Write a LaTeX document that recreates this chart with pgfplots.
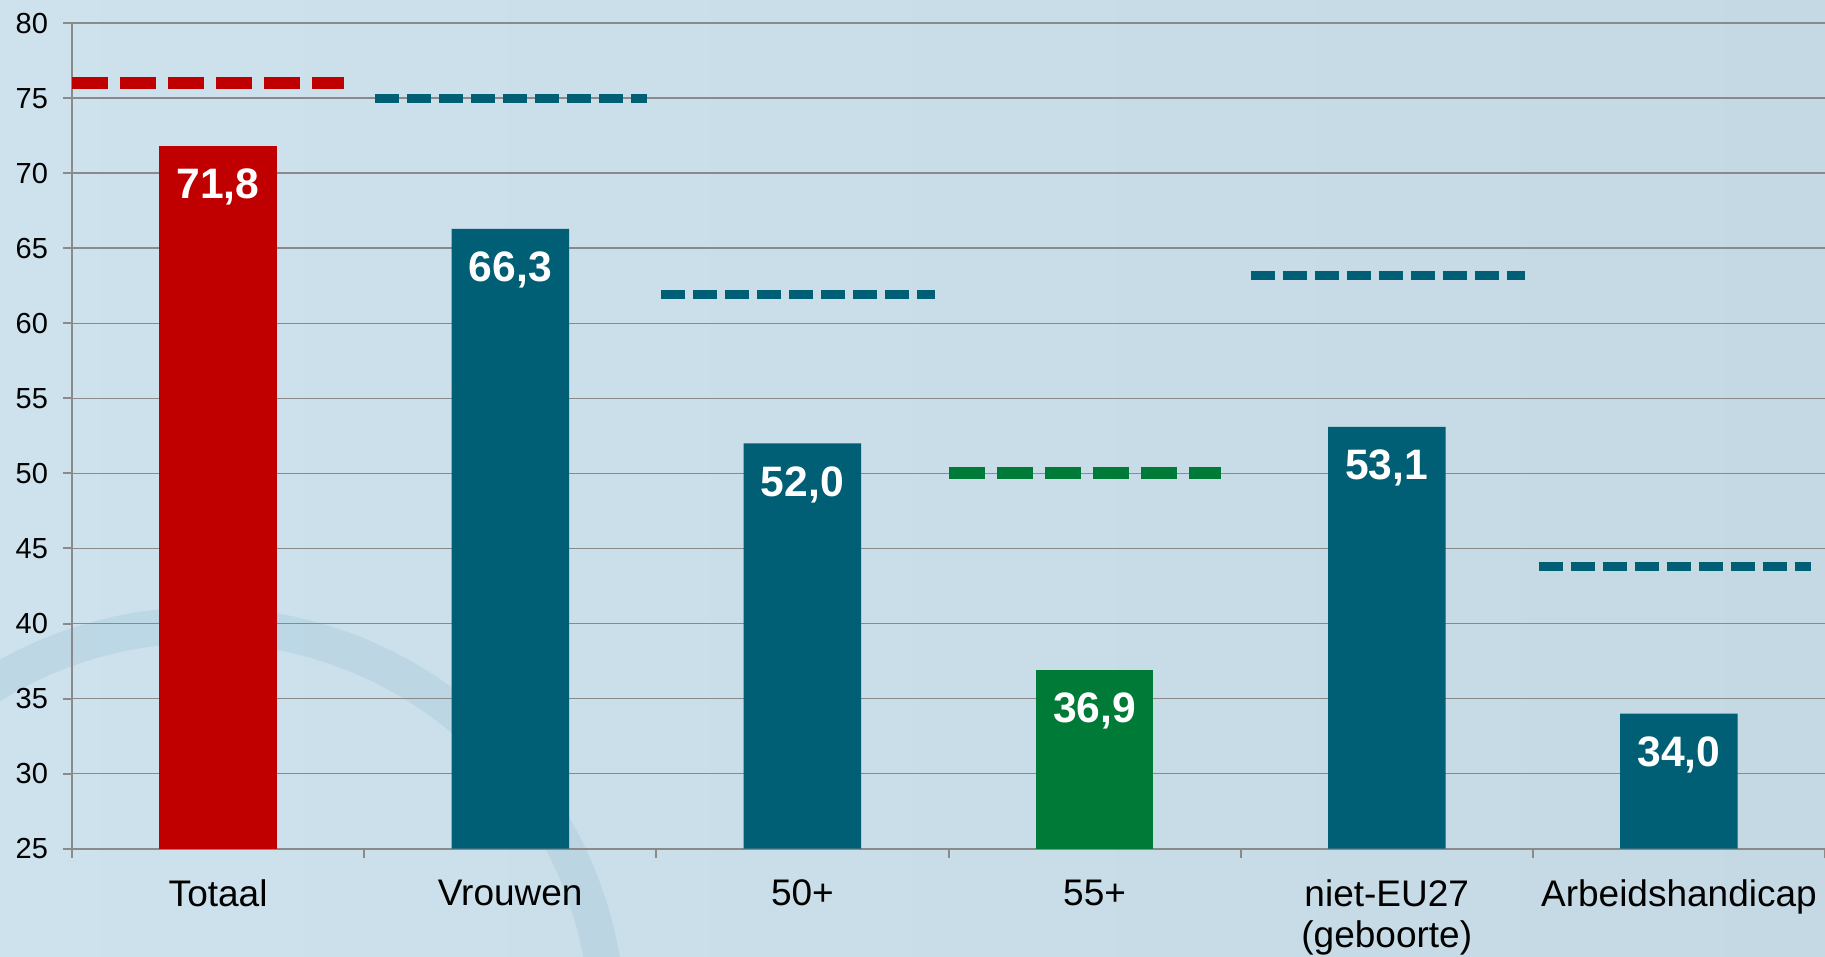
\documentclass[border=0pt]{standalone}
\usepackage{pgfplots}
\pgfplotsset{compat=1.18}
\usepackage{fontspec}
\setmainfont{Liberation Sans}
\definecolor{cred}{HTML}{C00000}
\definecolor{cteal}{HTML}{005E75}
\definecolor{cgreen}{HTML}{007A37}
\definecolor{bgl}{HTML}{CDE2EC}
\definecolor{bgr}{HTML}{C4D9E3}
\definecolor{cgrid}{HTML}{8A8A8A}
\definecolor{cring}{HTML}{A6C8DC}
\pgfplotstableread{
x y lab
0 71.8 71,8
}\redbars
\pgfplotstableread{
x y lab
1 66.3 66,3
2 52.0 52,0
4 53.1 53,1
5 34.0 34,0
}\tealbars
\pgfplotstableread{
x y lab
3 36.9 36,9
}\greenbars
\begin{document}
\begin{tikzpicture}
\fill[left color=bgl, right color=bgr] (0,0) rectangle (912.5pt,478.5pt);
\begin{scope}
\clip (0,0) rectangle (912.5pt,478.5pt);
\draw[cring, opacity=0.4, line width=18pt] (102pt,-36pt) circle (202pt);
\end{scope}
\begin{axis}[
  at={(36pt,54.2pt)}, anchor=south west,
  scale only axis, width=876.5pt, height=412.65pt,
  xmin=-0.5, xmax=5.5, ymin=25, ymax=80,
  axis lines*=left,
  axis line style={cgrid, line width=1pt},
  xtick={-0.5,0.5,1.5,2.5,3.5,4.5,5.5},
  x tick label as interval,
  xticklabels={Totaal,Vrouwen,50+,55+,{niet-EU27\\(geboorte)},Arbeidshandicap},
  xticklabel style={align=center, font=\fontsize{18.5}{20.5}\selectfont, text=black, yshift=-7.5pt},
  ytick={25,30,...,80},
  yticklabel style={font=\fontsize{14.5}{16}\selectfont, text=black, xshift=-4pt},
  tick align=outside,
  major tick length=4.5pt,
  tick style={cgrid, line width=1pt},
  ymajorgrids, grid style={cgrid, line width=0.9pt},
  /pgf/number format/assume math mode=true,
  every node near coord/.append style={anchor=center, yshift=-20.5pt, text=white, font=\bfseries\fontsize{21.3}{24}\selectfont},
]
\addplot[ybar, bar width=58.75pt, bar shift=0pt, fill=cred, draw=none,
  nodes near coords, point meta=explicit symbolic]
  table[x=x, y=y, meta=lab] {\redbars};
\addplot[ybar, bar width=58.75pt, bar shift=0pt, fill=cteal, draw=none,
  nodes near coords, point meta=explicit symbolic]
  table[x=x, y=y, meta=lab] {\tealbars};
\addplot[ybar, bar width=58.75pt, bar shift=0pt, fill=cgreen, draw=none,
  nodes near coords, point meta=explicit symbolic]
  table[x=x, y=y, meta=lab] {\greenbars};
% target lines
\addplot[cred, line width=6pt, dash pattern=on 18pt off 6pt, no markers] coordinates {(-0.5,76.0) (0.431,76.0)};
\addplot[cteal, line width=4.5pt, dash pattern=on 12pt off 4pt, no markers] coordinates {(0.537,75.0) (1.468,75.0)};
\addplot[cteal, line width=4.5pt, dash pattern=on 12pt off 4pt, no markers] coordinates {(1.516,61.9) (2.453,61.9)};
\addplot[cgreen, line width=6pt, dash pattern=on 18pt off 6pt, no markers] coordinates {(2.501,50.0) (3.432,50.0)};
\addplot[cteal, line width=4.5pt, dash pattern=on 12pt off 4pt, no markers] coordinates {(3.535,63.2) (4.472,63.2)};
\addplot[cteal, line width=4.5pt, dash pattern=on 12pt off 4pt, no markers] coordinates {(4.52,43.8) (5.451,43.8)};
\end{axis}
\pgfresetboundingbox
\path[use as bounding box] (0,0) rectangle (912.5pt,478.5pt);
\end{tikzpicture}
\end{document}
